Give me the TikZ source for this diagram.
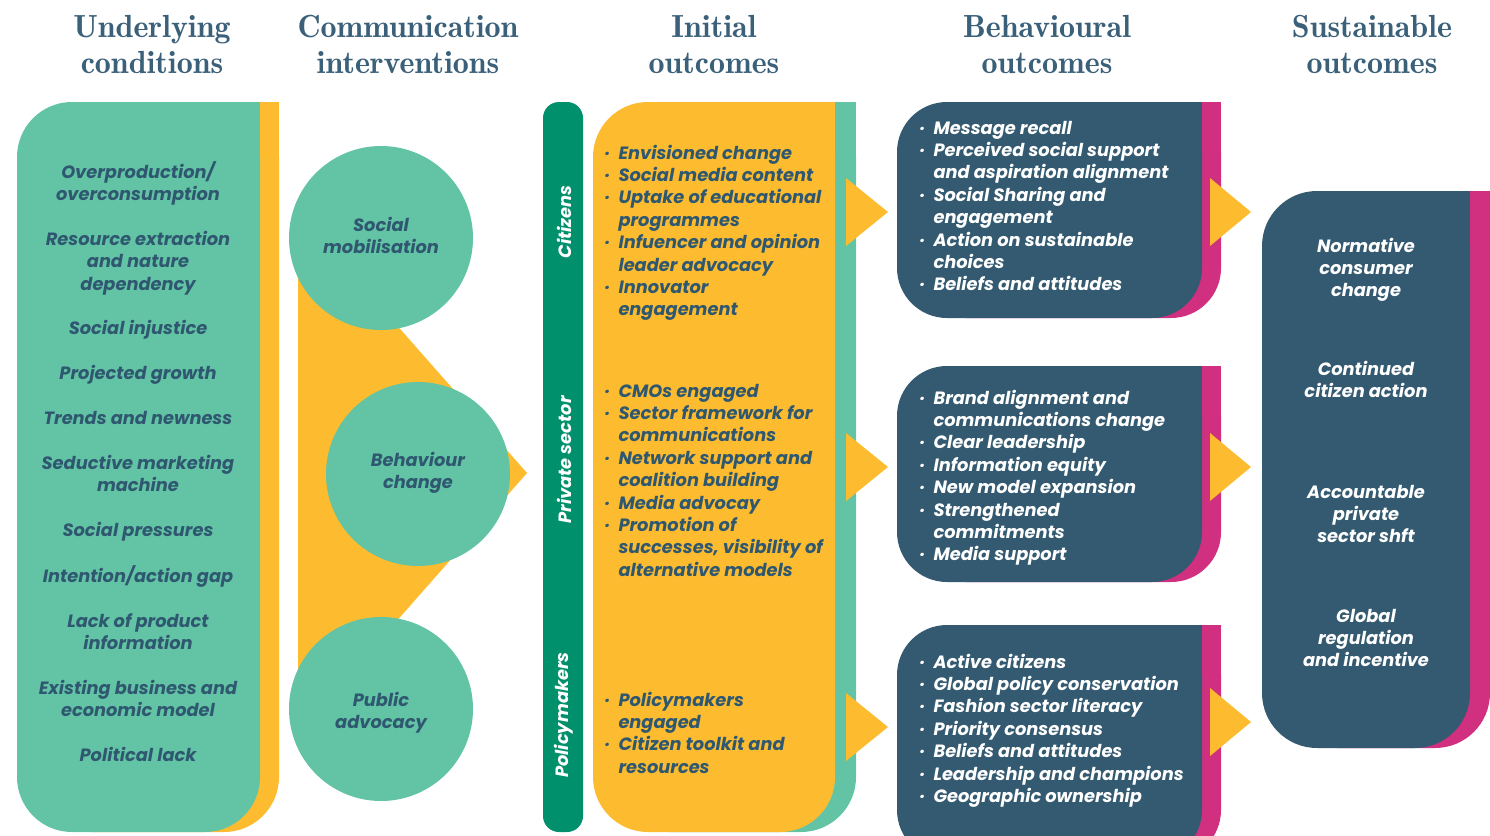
\documentclass[tikz,border=0pt]{standalone}
\usepackage{fontspec}
\newfontfamily\bodyfont{Poppins}
\newfontfamily\titlefont{lmromandemi10-regular.otf}
\definecolor{cgreen}{HTML}{62C4A5}
\definecolor{cyellow}{HTML}{FDBC2F}
\definecolor{cdkgreen}{HTML}{00906C}
\definecolor{cnavy}{HTML}{335A70}
\definecolor{ctext}{HTML}{2F5870}
\definecolor{cmagenta}{HTML}{D0307F}
\definecolor{ctitle}{HTML}{3B6079}
\newcommand\bul{\textperiodcentered}
\tikzset{
  body/.style={font=\bodyfont\bfseries\itshape\fontsize{17.8}{22.4}\selectfont, inner sep=0pt},
  title/.style={font=\titlefont\fontsize{32}{36.5}\selectfont, text=ctitle, inner sep=0pt, anchor=base},
  circ/.style={circle, fill=cgreen, minimum size=184pt, inner sep=0pt},
  tri/.style={fill=cyellow},
}
\newcommand\blist[1]{\begin{tabular}[t]{@{}l@{\hspace{8pt}}l@{}}#1\end{tabular}}
\newcommand\clist[1]{\begin{tabular}[t]{@{}c@{}}#1\end{tabular}}
\begin{document}
\begin{tikzpicture}[x=1pt,y=-1pt]
\useasboundingbox (0,0) rectangle (1490,835);
% titles
\node[title] (t1) at (152,37) {\clist{Underlying\\conditions}};
\node[title] (t2) at (408,37) {\clist{Communication\\interventions}};
\node[title] (t3) at (714,37) {\clist{Initial\\outcomes}};
\node[title] (t4) at (1047,37) {\clist{Behavioural\\outcomes}};
\node[title] (t5) at (1372,37) {\clist{Sustainable\\outcomes}};
% left panel
\fill[cyellow, rounded corners=55pt] (36,102) rectangle (279,832);
\fill[cyellow] (150,102) rectangle (279,200);
\fill[cgreen, rounded corners=55pt] (17,102) rectangle (260,832);
\fill[cgreen] (150,102) rectangle (260,200);
\node[body, text=ctext, anchor=base] (uc) at (138,178) {\clist{Overproduction/\\overconsumption\\ \\Resource extraction\\and nature\\dependency\\ \\Social injustice\\ \\Projected growth\\ \\Trends and newness\\ \\Seductive marketing\\machine\\ \\Social pressures\\ \\Intention/action gap\\ \\Lack of product\\information\\ \\Existing business and\\economic model\\ \\Political lack}};
% interventions
\fill[cyellow] (298,238) -- (320,238) -- (527,473) -- (320,708) -- (298,708) -- cycle;
\node[circ] (c1) at (381,238) {};
\node[circ] (c2) at (418,474) {};
\node[circ] (c3) at (381,709) {};
\node[body, text=ctext, anchor=base] (c1t) at (381,231) {\clist{Social\\mobilisation}};
\node[body, text=ctext, anchor=base] (c2t) at (418,466) {\clist{Behaviour\\change}};
\node[body, text=ctext, anchor=base] (c3t) at (381,706) {\clist{Public\\advocacy}};
% actor bar
\fill[cdkgreen, rounded corners=16pt] (543,102) rectangle (583,832);
\node[body, text=white, rotate=90] (a1) at (564,222) {Citizens};
\node[body, text=white, rotate=90] (a2) at (564,460) {Private sector};
\node[body, text=white, rotate=90] (a3) at (564,715) {Policymakers};
% initial outcomes
\fill[cgreen, rounded corners=55pt] (614,102) rectangle (856,832);
\fill[cgreen] (720,102) rectangle (856,200);
\fill[cyellow, rounded corners=55pt] (593,102) rectangle (835,832);
\fill[cyellow] (720,102) rectangle (835,200);
\node[body, text=ctext, anchor=base west] (i1) at (605,159) {\blist{\bul&Envisioned change\\\bul&Social media content\\\bul&Uptake of educational\\&programmes\\\bul&Infuencer and opinion\\&leader advocacy\\\bul&Innovator\\&engagement}};
\node[body, text=ctext, anchor=base west] (i2) at (605,397) {\blist{\bul&CMOs engaged\\\bul&Sector framework for\\&communications\\\bul&Network support and\\&coalition building\\\bul&Media advocay\\\bul&Promotion of\\&successes, visibility of\\&alternative models}};
\node[body, text=ctext, anchor=base west] (i3) at (605,706) {\blist{\bul&Policymakers\\&engaged\\\bul&Citizen toolkit and\\&resources}};
\fill[tri] (846,178) -- (888,212) -- (846,246) -- cycle;
\fill[tri] (846,433) -- (888,467) -- (846,501) -- cycle;
\fill[tri] (846,693) -- (888,727) -- (846,761) -- cycle;
% behavioural outcomes
\foreach \ya/\yb in {102/318, 366/582, 625/860}{
  \fill[cmagenta, rounded corners=50pt] (916,\ya) rectangle (1221,\yb);
  \fill[cmagenta] (1100,\ya) rectangle (1221,\ya+80);
  \fill[cnavy, rounded corners=50pt] (897,\ya) rectangle (1202,\yb);
  \fill[cnavy] (1100,\ya) rectangle (1202,\ya+80);
}
\node[body, text=white, anchor=base west] (b1) at (920,134) {\blist{\bul&Message recall\\\bul&Perceived social support\\&and aspiration alignment\\\bul&Social Sharing and\\&engagement\\\bul&Action on sustainable\\&choices\\\bul&Beliefs and attitudes}};
\node[body, text=white, anchor=base west] (b2) at (920,404) {\blist{\bul&Brand alignment and\\&communications change\\\bul&Clear leadership\\\bul&Information equity\\\bul&New model expansion\\\bul&Strengthened\\&commitments\\\bul&Media support}};
\node[body, text=white, anchor=base west] (b3) at (920,668) {\blist{\bul&Active citizens\\\bul&Global policy conservation\\\bul&Fashion sector literacy\\\bul&Priority consensus\\\bul&Beliefs and attitudes\\\bul&Leadership and champions\\\bul&Geographic ownership}};
\fill[tri] (1210,178) -- (1251,212) -- (1210,246) -- cycle;
\fill[tri] (1210,433) -- (1251,467) -- (1210,501) -- cycle;
\fill[tri] (1210,688) -- (1251,722) -- (1210,756) -- cycle;
% sustainable outcomes
\fill[cmagenta, rounded corners=55pt] (1282,191) rectangle (1490,748);
\fill[cmagenta] (1400,191) rectangle (1490,280);
\fill[cnavy, rounded corners=55pt] (1262,191) rectangle (1470,748);
\fill[cnavy] (1400,191) rectangle (1470,280);
\node[body, text=white, anchor=base] (s1) at (1366,252) {\clist{Normative\\consumer\\change}};
\node[body, text=white, anchor=base] (s2) at (1366,375) {\clist{Continued\\citizen action}};
\node[body, text=white, anchor=base] (s3) at (1366,498) {\clist{Accountable\\private\\sector shft}};
\node[body, text=white, anchor=base] (s4) at (1366,622) {\clist{Global\\regulation\\and incentive}};
\end{tikzpicture}
\end{document}
